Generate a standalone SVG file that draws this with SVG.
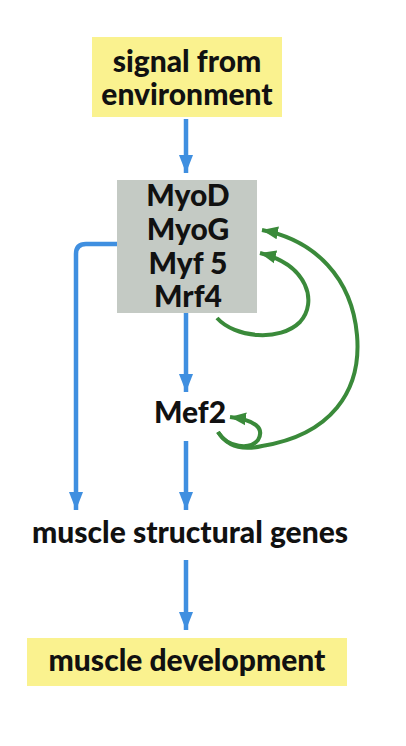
<svg xmlns="http://www.w3.org/2000/svg" width="406" height="746" viewBox="0 0 406 746">
<style>
.t{font-family:Lato,"Open Sans","Liberation Sans",sans-serif;font-weight:900;font-size:30px;fill:#111;text-anchor:middle}
.b{fill:none;stroke:#3f8fe0;stroke-width:4.5}
.g{fill:none;stroke:#3a8a3a;stroke-width:4}
</style>
<defs>
<marker id="ab" markerUnits="userSpaceOnUse" markerWidth="20" markerHeight="16" refX="18" refY="7" orient="auto" viewBox="0 0 20 14">
<path d="M0,0 L18,7 L0,14 Z" fill="#3f8fe0"/>
</marker>
<marker id="ag" markerUnits="userSpaceOnUse" markerWidth="18" markerHeight="16" refX="16" refY="6.5" orient="auto" viewBox="0 0 18 13">
<path d="M0,0 L16,6.5 L0,13 Z" fill="#3a8a3a"/>
</marker>
</defs>
<rect width="406" height="746" fill="#fff"/>
<g id="signal">
<rect x="92" y="37" width="190" height="80" fill="#faf28f"/>
<text class="t" x="187" y="72">signal from</text>
<text class="t" x="187" y="105">environment</text>
</g>
<g id="mrf">
<rect x="117" y="180" width="140" height="133" fill="#c4cac4"/>
<text class="t" x="188" y="206">MyoD</text>
<text class="t" x="188" y="240">MyoG</text>
<text class="t" x="188" y="274">Myf 5</text>
<text class="t" x="188" y="307">Mrf4</text>
</g>
<g id="mef2">
<text class="t" x="190" y="423">Mef2</text>
</g>
<g id="genes">
<text class="t" x="190" y="543">muscle structural genes</text>
</g>
<g id="development">
<rect x="27" y="638" width="320" height="48" fill="#faf28f"/>
<text class="t" x="187" y="671">muscle development</text>
</g>
<g id="connectors">
<path class="b" d="M186,119 V173" marker-end="url(#ab)"/>
<path class="b" d="M117,244 H86 Q76,244 76,254 V510" marker-end="url(#ab)"/>
<path class="b" d="M186,313 V392" marker-end="url(#ab)"/>
<path class="b" d="M186,441 V510" marker-end="url(#ab)"/>
<path class="b" d="M186,560 V630" marker-end="url(#ab)"/>
<path class="g" d="M217,318 C235,338 280,342 300,322 C318,302 308,265 260,253" marker-end="url(#ag)"/>
<path class="g" d="M218,432 C228,448 250,450 258,440 C265,428 255,420 230,417" marker-end="url(#ag)"/>
<path class="g" d="M218,432 C228,448 245,450 262,446 C330,435 362,392 357,335 C352,278 315,240 262,230" marker-end="url(#ag)"/>
</g>
</svg>
